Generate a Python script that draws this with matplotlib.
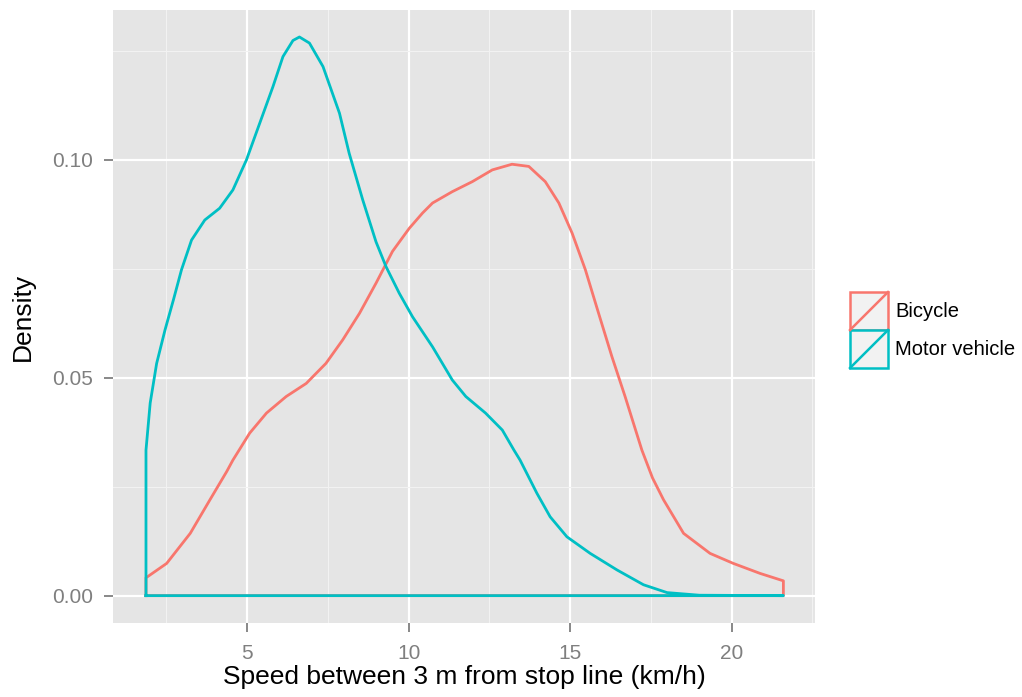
import matplotlib.pyplot as plt
from matplotlib.patches import Rectangle
from matplotlib.lines import Line2D

plt.rcParams['font.family'] = ['Liberation Sans', 'DejaVu Sans']

# density estimates of speed (km/h) for each road user group
bike_x = [1.87, 2.51, 3.24, 3.85, 4.37, 4.56, 5.08, 5.60, 6.21, 6.83, 7.44, 7.96,
          8.48, 8.99, 9.50, 10.02, 10.43, 10.74, 11.35, 11.97, 12.59, 13.20, 13.72,
          14.23, 14.65, 15.06, 15.47, 15.88, 16.29, 16.70, 17.22, 17.55, 17.89,
          18.51, 19.33, 20.05, 20.88, 21.60]
bike_y = [0.0041, 0.0074, 0.0143, 0.0220, 0.0285, 0.0311, 0.0373, 0.0419, 0.0457,
          0.0487, 0.0533, 0.0587, 0.0648, 0.0717, 0.0790, 0.0843, 0.0878, 0.0901,
          0.0927, 0.0950, 0.0977, 0.0990, 0.0985, 0.0950, 0.0901, 0.0832, 0.0748,
          0.0648, 0.0549, 0.0457, 0.0334, 0.0270, 0.0220, 0.0143, 0.0097, 0.0074,
          0.0051, 0.0034]

motor_x = [1.87, 2.00, 2.20, 2.46, 2.72, 2.97, 3.28, 3.69, 4.15, 4.56, 4.98, 5.39,
           5.80, 6.11, 6.42, 6.62, 6.93, 7.35, 7.86, 8.16, 8.58, 8.99, 9.30, 9.71,
           10.12, 10.74, 11.35, 11.77, 12.38, 12.90, 13.26, 13.45, 13.97, 14.38,
           14.90, 15.62, 16.45, 17.27, 18.00, 19.00, 21.60]
motor_y = [0.0334, 0.0442, 0.0533, 0.0610, 0.0679, 0.0748, 0.0816, 0.0862, 0.0889,
           0.0931, 0.1000, 0.1084, 0.1168, 0.1237, 0.1274, 0.1282, 0.1268, 0.1214,
           0.1107, 0.1015, 0.0908, 0.0812, 0.0755, 0.0694, 0.0640, 0.0571, 0.0495,
           0.0457, 0.0419, 0.0380, 0.0334, 0.0311, 0.0235, 0.0181, 0.0135, 0.0097,
           0.0059, 0.0025, 0.0007, 0.0001, 0.0000]

groups = ['Bicycle', 'Motor vehicle']
colors = ['#F8766D', '#00BFC4']

xticks = [5, 10, 15, 20]
yticks = [0.00, 0.05, 0.10]
ytick_labels = ['0.00', '0.05', '0.10']

fig = plt.figure(figsize=(10.22, 6.97), dpi=100)
ax = fig.add_axes([0.1106, 0.1062, 0.6869, 0.8795])
ax.set_facecolor('#E5E5E5')

for xs, ys, c in [(bike_x, bike_y, colors[0]), (motor_x, motor_y, colors[1])]:
    # closed outline like a density polygon
    px = [xs[0]] + list(xs) + [xs[-1], xs[0]]
    py = [0] + list(ys) + [0, 0]
    ax.plot(px, py, color=c, lw=2.0, solid_joinstyle='round', zorder=3)

ax.set_xlim(0.85, 22.58)
ax.set_ylim(-0.00627, 0.1344)

ax.set_xticks(xticks)
ax.set_xticks([2.5, 7.5, 12.5, 17.5, 22.5], minor=True)
ax.set_yticks(yticks)
ax.set_yticklabels(ytick_labels)
ax.set_yticks([0.025, 0.075, 0.125], minor=True)
ax.grid(which='major', color='white', lw=1.6)
ax.grid(which='minor', color='#F2F2F2', lw=0.8)
ax.set_axisbelow(True)
for s in ax.spines.values():
    s.set_visible(False)
ax.tick_params(which='major', length=6.5, width=1.3, color='#7F7F7F',
               labelcolor='#7F7F7F', labelsize=15)
ax.tick_params(axis='x', pad=8.4)
ax.tick_params(axis='y', pad=8)
ax.tick_params(which='minor', length=0)

ax.set_xlabel('Speed between 3 m from stop line (km/h)', fontsize=19, labelpad=2)
ax.set_ylabel('Density', fontsize=19, labelpad=12)

# legend keys: outlined box with a diagonal stroke
kx, kw, kh = 0.8317, 0.0372, 0.0545
for i, (g, c) in enumerate(zip(groups, colors)):
    y0 = 0.5265 - i * kh
    fig.patches.append(Rectangle((kx, y0), kw, kh, transform=fig.transFigure,
                                 facecolor='#F2F2F2', edgecolor=c, lw=1.8))
    fig.lines.append(Line2D([kx, kx + kw], [y0, y0 + kh], transform=fig.transFigure,
                            color=c, lw=1.8))
    fig.text(0.8757, y0 + kh / 2, g, fontsize=14.5, va='center', ha='left')

fig.savefig('out.png', dpi=100)
